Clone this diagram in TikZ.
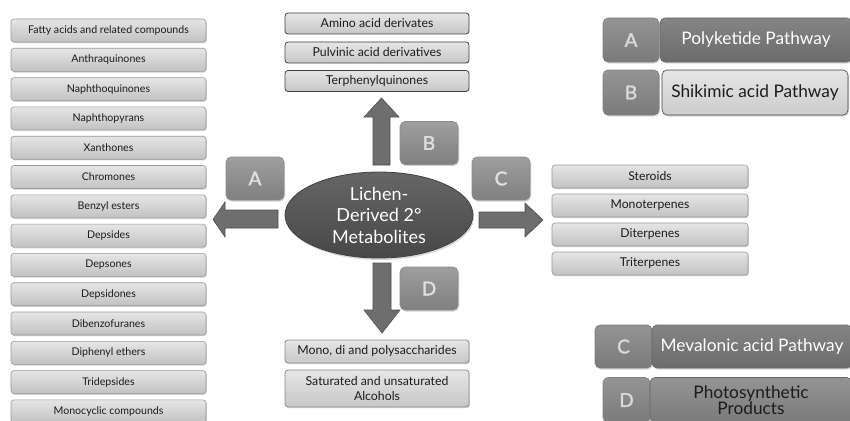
\documentclass[tikz,border=0pt]{standalone}
\usepackage{fontspec}
\setmainfont{Lato}
\newfontfamily\letfont[FakeBold=2]{Lato}
\usetikzlibrary{shadows,shapes.geometric}
\definecolor{txt}{HTML}{1C1C1C}
\definecolor{arr}{HTML}{6E6E6E}
\definecolor{arrd}{HTML}{4E4E4E}
\tikzset{
  listbox/.style={rectangle, rounded corners=3pt, draw=black!40, line width=0.6pt,
    top color=black!10, bottom color=black!24, text=txt, font=\fontsize{10.6}{12}\selectfont,
    minimum width=195pt, minimum height=23pt, inner sep=0pt,
    drop shadow={shadow xshift=0.8pt, shadow yshift=-1.2pt, fill=black!35}},
  topbox/.style={rectangle, rounded corners=3pt, draw=black!75, line width=0.8pt,
    top color=black!10, bottom color=black!22, text=txt, font=\fontsize{12.3}{14}\selectfont,
    minimum width=184pt, inner sep=0pt, align=center},
  rightbox/.style={listbox, minimum width=196pt, font=\fontsize{12.2}{14}\selectfont},
  letterbox/.style={rectangle, rounded corners=5pt, draw=black!45, line width=0.6pt,
    top color=black!38, bottom color=black!50, text=black!12,
    font=\fontsize{19}{19}\letfont, minimum width=58pt, minimum height=43pt,
    drop shadow={shadow xshift=1pt, shadow yshift=-1.5pt, fill=black!35}},
  legsq/.style={rectangle, rounded corners=5pt, draw=black!50, line width=0.6pt,
    top color=black!42, bottom color=black!52, text=black!15,
    font=\fontsize{19}{19}\letfont, inner sep=0pt,
    drop shadow={shadow xshift=1pt, shadow yshift=-1.5pt, fill=black!30}},
  legbar/.style={rectangle, rounded corners=5pt, draw=black!60, line width=0.6pt,
    top color=black!48, bottom color=black!58, text=white,
    font=\fontsize{17.3}{17}\selectfont, inner sep=0pt, align=center,
    drop shadow={shadow xshift=1pt, shadow yshift=-1.5pt, fill=black!30}},
  blockarrow/.style={fill=arr, draw=arrd, line width=0.6pt, line join=miter},
}
\begin{document}
\begin{tikzpicture}[x=1pt,y=-1pt]
\useasboundingbox (0,0) rectangle (850,420);
% left list
\foreach \t [count=\i from 0] in {Fatty acids and related compounds, Anthraquinones, Naphthoquinones,
  Naphthopyrans, Xanthones, Chromones, Benzyl esters, Depsides, Depsones, Depsidones,
  Dibenzofuranes, Diphenyl ethers, Tridepsides, Monocyclic compounds}
  \node[listbox] (L\i) at (108.5, {30.5+29.3*\i}) {\t};
% top boxes
\node[topbox, minimum height=21pt] (T1) at (377,23.5) {Amino acid derivates};
\node[topbox, minimum height=21pt] (T2) at (377,52.5) {Pulvinic acid derivatives};
\node[topbox, minimum height=21pt] (T3) at (377,81) {Terphenylquinones};
% bottom boxes
\node[topbox, draw=black!45, minimum height=23pt, drop shadow={shadow xshift=0.8pt, shadow yshift=-1.2pt, fill=black!30}] (B1) at (377,351.5) {Mono, di and polysaccharides};
\node[topbox, draw=black!45, minimum height=37pt, drop shadow={shadow xshift=0.8pt, shadow yshift=-1.2pt, fill=black!30}, font=\fontsize{12.3}{15}\selectfont] (B2) at (377,388.5) {Saturated and unsaturated\\Alcohols};
% right list
\node[rightbox] (R1) at (650,176.5) {Steroids};
\node[rightbox] (R2) at (650,205.5) {Monoterpenes};
\node[rightbox] (R3) at (650,234.5) {Diterpenes};
\node[rightbox] (R4) at (650,263.5) {Triterpenes};
% block arrows
\draw[blockarrow] (278,210) -- (225,210) -- (225,202) -- (213,219.5) -- (225,237) -- (225,228) -- (278,228) -- cycle;
\draw[blockarrow] (479,212) -- (525,212) -- (525,203) -- (543,220) -- (525,237) -- (525,228) -- (479,228) -- cycle;
\draw[blockarrow] (373,165) -- (373,117) -- (364,117) -- (381.5,98) -- (399,117) -- (390,117) -- (390,165) -- cycle;
\draw[blockarrow] (373,263) -- (373,310) -- (364,310) -- (382,333) -- (400,310) -- (391,310) -- (391,263) -- cycle;
% centre ellipse
\node[ellipse, minimum width=188pt, minimum height=86pt, inner sep=0pt, draw=black!75, line width=0.8pt,
  top color=black!60, bottom color=black!72, text=white, align=center,
  font=\fontsize{18}{21.5}\selectfont,
  drop shadow={shadow xshift=1pt, shadow yshift=-2pt, fill=black!30}] (E) at (379,215) {Lichen-\\Derived 2°\\Metabolites};
% letter boxes
\node[letterbox] (LA) at (255,178.5) {A};
\node[letterbox] (LB) at (429,143) {B};
\node[letterbox] (LC) at (501,178.5) {C};
\node[letterbox] (LD) at (429,288.5) {D};
% legend
\node[legsq, minimum width=56pt, minimum height=44pt] (GA) at (631,40) {A};
\node[legbar, minimum width=192pt, minimum height=44pt] (PA) at (756,40) {Polyketide Pathway};
\node[legsq, minimum width=56pt, minimum height=45pt] (GB) at (631,92.5) {B};
\node[legbar, draw=black!75, top color=black!10, bottom color=black!20, text=txt, minimum width=186pt, minimum height=45pt] (PB) at (755,92.5) {Shikimic acid Pathway};
\node[legsq, minimum width=57pt, minimum height=43pt] (GC) at (623.5,346.5) {C};
\node[legbar, minimum width=200pt, minimum height=43pt] (PC) at (752,346.5) {Mevalonic acid Pathway};
\node[legsq, minimum width=47pt, minimum height=45pt] (GD) at (626.5,400) {D};
\node[legbar, text=txt, top color=black!42, bottom color=black!52, minimum width=202pt, minimum height=45pt, font=\fontsize{17.3}{16.5}\selectfont] (PD) at (751,400) {Photosynthetic\\Products};
\end{tikzpicture}
\end{document}
